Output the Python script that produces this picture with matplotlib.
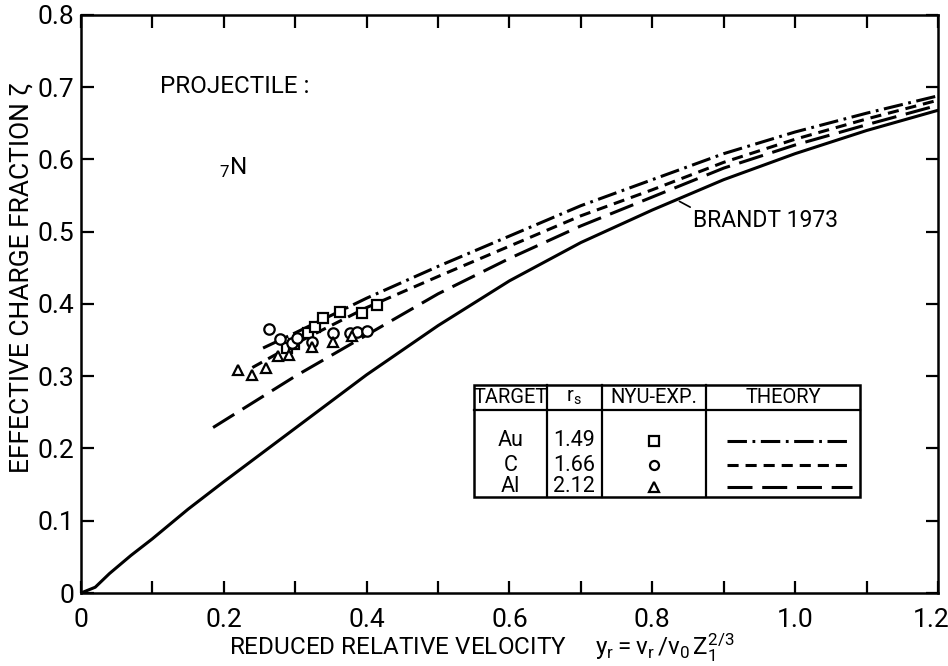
import matplotlib
matplotlib.use("Agg")
import matplotlib.pyplot as plt
from matplotlib import font_manager
from matplotlib.patches import Rectangle
from matplotlib.transforms import ScaledTranslation

names = {f.name for f in font_manager.fontManager.ttflist}
main_font = "Roboto" if "Roboto" in names else "DejaVu Sans"
plt.rcParams["font.family"] = [main_font, "DejaVu Sans"]
plt.rcParams["mathtext.fontset"] = "custom"
plt.rcParams["mathtext.rm"] = main_font
plt.rcParams["mathtext.it"] = main_font
plt.rcParams["lines.scale_dashes"] = False

# theory curves
brandt_x = [0, 0.02, 0.04, 0.07, 0.1, 0.15, 0.2, 0.3, 0.4, 0.5, 0.6, 0.7, 0.8, 0.9, 1.0, 1.1, 1.2]
brandt_y = [0, 0.008, 0.027, 0.052, 0.075, 0.116, 0.154, 0.228, 0.302, 0.370, 0.432, 0.485, 0.530, 0.572, 0.608, 0.640, 0.668]

au_x = [0.255, 0.3, 0.4, 0.5, 0.6, 0.7, 0.8, 0.9, 1.0, 1.1, 1.2]
au_y = [0.339, 0.360, 0.408, 0.452, 0.494, 0.536, 0.572, 0.608, 0.638, 0.664, 0.688]

c_x = [0.24, 0.3, 0.4, 0.5, 0.6, 0.7, 0.8, 0.9, 1.0, 1.1, 1.2]
c_y = [0.312, 0.345, 0.395, 0.438, 0.480, 0.522, 0.558, 0.596, 0.628, 0.656, 0.682]

al_x = [0.185, 0.3, 0.4, 0.5, 0.6, 0.7, 0.8, 0.9, 1.0, 1.1, 1.2]
al_y = [0.229, 0.300, 0.357, 0.414, 0.463, 0.508, 0.548, 0.588, 0.620, 0.648, 0.675]

# NYU experimental points
au_exp_x = [0.289, 0.298, 0.318, 0.328, 0.339, 0.363, 0.393, 0.414]
au_exp_y = [0.339, 0.345, 0.360, 0.368, 0.380, 0.389, 0.388, 0.398]
c_exp_x = [0.264, 0.279, 0.296, 0.302, 0.324, 0.353, 0.377, 0.387, 0.400]
c_exp_y = [0.366, 0.352, 0.346, 0.353, 0.348, 0.360, 0.360, 0.361, 0.363]
al_exp_x = [0.220, 0.240, 0.259, 0.276, 0.292, 0.324, 0.353, 0.380]
al_exp_y = [0.309, 0.302, 0.312, 0.328, 0.330, 0.341, 0.348, 0.355]

targets = ["Au", "C", "Al"]
rs_vals = ["1.49", "1.66", "2.12"]
markers = ["s", "o", "^"]

dashdot = (0, (14, 4, 2, 4))
shortdash = (0, (8, 5))
longdash = (0, (18, 7))
styles = [dashdot, shortdash, longdash]

fig = plt.figure(figsize=(9.48, 6.66), dpi=100)
ax = fig.add_axes([0.0854, 0.1096, 0.904, 0.868])

lw = 2.2
ax.plot(brandt_x, brandt_y, color="black", lw=lw)
ax.plot(au_x, au_y, color="black", lw=lw, linestyle=dashdot)
ax.plot(c_x, c_y, color="black", lw=lw, linestyle=shortdash)
ax.plot(al_x, al_y, color="black", lw=lw, linestyle=longdash)

mk = dict(mfc="white", mec="black", mew=1.6, ls="none", ms=7.5)
ax.plot(au_exp_x, au_exp_y, marker="s", **mk)
ax.plot(c_exp_x, c_exp_y, marker="o", **mk)
ax.plot(al_exp_x, al_exp_y, marker="^", **mk)

ax.set_xlim(0, 1.2)
ax.set_ylim(0, 0.8)
ax.set_xticks([i * 0.1 for i in range(13)])
ax.set_xticklabels(["0", "", "0.2", "", "0.4", "", "0.6", "", "0.8", "", "1.0", "", "1.2"])
ax.set_yticks([i * 0.1 for i in range(9)])
ax.set_yticklabels(["0", "0.1", "0.2", "0.3", "0.4", "0.5", "0.6", "0.7", "0.8"])
ax.tick_params(direction="in", length=9, width=1.6, top=True, right=True,
               labelsize=19)
ax.tick_params(axis="x", pad=11)
ax.tick_params(axis="y", pad=5)
for s in ax.spines.values():
    s.set_linewidth(1.8)
# last x label sits against the figure edge, nudge it in
last = ax.get_xticklabels()[-1]
last.set_transform(last.get_transform() + ScaledTranslation(-7 / 100, 0, fig.dpi_scale_trans))

ax.set_xlabel(r"REDUCED RELATIVE VELOCITY     $\mathregular{y_r = v_r\,/v_0\,Z_1^{2/3}}$",
              fontsize=17.5)
ax.xaxis.set_label_coords(0.468, -0.066)
ax.set_ylabel("EFFECTIVE CHARGE FRACTION ζ", fontsize=19)
ax.yaxis.set_label_coords(-0.055, 0.545)

ax.text(0.111, 0.701, "PROJECTILE :", fontsize=17.5, va="center")
ax.text(0.193, 0.589, r"$\mathregular{_7}$N", fontsize=17.5, va="center")
ax.annotate("BRANDT 1973", xy=(0.838, 0.542), xytext=(0.857, 0.516),
            fontsize=16.5, va="center",
            arrowprops=dict(arrowstyle="-", color="black", lw=1.2,
                            shrinkA=0, shrinkB=0, relpos=(0, 1)))

# legend table
tx0, tx1 = 0.551, 1.091
ty0, ty1, th = 0.133, 0.288, 0.253
cols = [tx0, 0.652, 0.729, 0.875, tx1]
ax.add_patch(Rectangle((tx0, ty0), tx1 - tx0, ty1 - ty0, fill=False, lw=1.8, zorder=5))
ax.plot([tx0, tx1], [th, th], color="black", lw=1.6, zorder=5)
for cx in cols[1:-1]:
    ax.plot([cx, cx], [ty0, ty1], color="black", lw=1.6, zorder=5)

hy = (th + ty1) / 2
heads = ["TARGET", r"r$\mathregular{_s}$", "NYU-EXP.", "THEORY"]
for i, h in enumerate(heads):
    ax.text((cols[i] + cols[i + 1]) / 2, hy, h, fontsize=14.5, ha="center", va="center")

row_y = [0.211, 0.177, 0.147]
for i in range(3):
    y = row_y[i]
    ax.text((cols[0] + cols[1]) / 2, y, targets[i], fontsize=15.5, ha="center", va="center")
    ax.text((cols[1] + cols[2]) / 2, y, rs_vals[i], fontsize=15.5, ha="center", va="center")
    ax.plot([(cols[2] + cols[3]) / 2], [y], marker=markers[i], mfc="white",
            mec="black", mew=1.6, ms=6.5, ls="none")
    ax.plot([0.904, 1.080], [y, y], color="black", lw=lw, linestyle=styles[i])

fig.savefig("out.png", dpi=100)
